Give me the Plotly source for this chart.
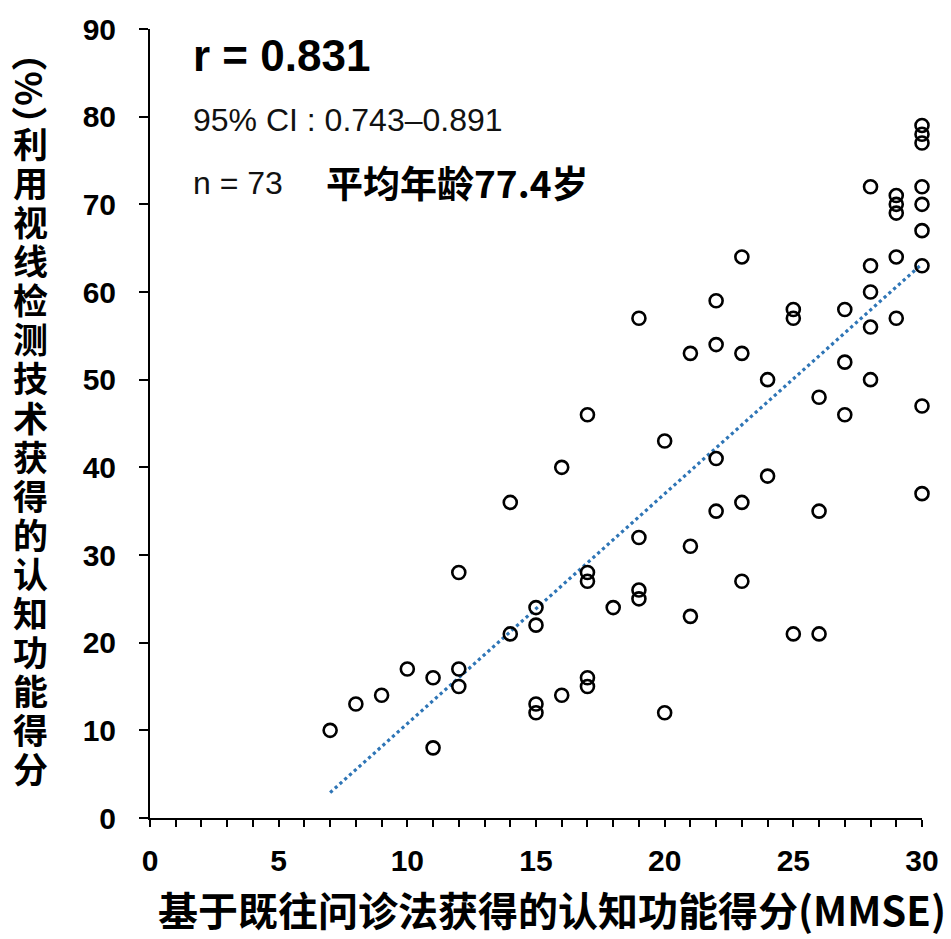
import plotly.graph_objects as go

# ---- data ----
mmse = [7, 8, 9, 10, 11, 11, 12, 12, 12, 14, 14, 15, 15, 15, 15, 16, 16,
        17, 17, 17, 17, 17, 18, 19, 19, 19, 19, 20, 20, 21, 21, 21,
        22, 22, 22, 22, 23, 23, 23, 23, 24, 24, 25, 25, 25, 26, 26, 26,
        27, 27, 27, 28, 28, 28, 28, 28, 29, 29, 29, 29, 29,
        30, 30, 30, 30, 30, 30, 30, 30, 30]
gaze = [10, 13, 14, 17, 16, 8, 28, 17, 15, 36, 21, 24, 22, 13, 12, 40, 14,
        46, 28, 27, 16, 15, 24, 57, 32, 26, 25, 43, 12, 53, 31, 23,
        59, 54, 41, 35, 64, 53, 36, 27, 50, 39, 58, 57, 21, 48, 35, 21,
        58, 52, 46, 72, 63, 60, 56, 50, 71, 70, 69, 64, 57,
        79, 78, 77, 72, 70, 67, 63, 47, 37]
trend_x = [7, 30]
trend_y = [2.9, 63.2]

x_ticks = [0, 5, 10, 15, 20, 25, 30]
y_ticks = [0, 10, 20, 30, 40, 50, 60, 70, 80, 90]

x_title = "基于既往问诊法获得的认知功能得分(MMSE)"
y_title_head = "（%）"
y_title_chars = list("利用视线检测技术获得的认知功能得分")
r_text = "r = 0.831"
ci_text = "95% CI : 0.743–0.891"
n_text = "n = 73"
age_text = "平均年龄77.4岁"

LAT = "Liberation Sans, Arial, Noto Sans CJK SC"
CJK = "Noto Sans CJK SC, Liberation Sans"

W, H = 951, 939
L, R, T, B = 150, 22, 20, 121
PW, PH = W - L - R, H - T - B


def px(x):
    return (x - L) / PW


def py(y):
    return (H - B - y) / PH


fig = go.Figure()
fig.add_trace(go.Scatter(
    x=trend_x, y=trend_y, mode="lines",
    line=dict(color="#2E75B6", width=3.2, dash="dot"),
    hoverinfo="skip", showlegend=False))
fig.add_trace(go.Scatter(
    x=mmse, y=gaze, mode="markers", cliponaxis=False,
    marker=dict(symbol="circle-open", size=13, color="black",
                line=dict(width=2.6, color="black")),
    showlegend=False))

annotations = []
annotations.append(dict(text=r_text, x=px(191), y=py(47), xref="paper", yref="paper",
                        xanchor="left", yanchor="middle", showarrow=False,
                        font=dict(family=LAT, size=44, color="black", weight="bold")))
annotations.append(dict(text=ci_text, x=px(191), y=py(112), xref="paper", yref="paper",
                        xanchor="left", yanchor="middle", showarrow=False,
                        font=dict(family=LAT, size=32, color="#111")))
annotations.append(dict(text=n_text, x=px(191), y=py(176), xref="paper", yref="paper",
                        xanchor="left", yanchor="middle", showarrow=False,
                        font=dict(family=LAT, size=32, color="#111")))
annotations.append(dict(text=age_text, x=px(326), y=py(175), xref="paper", yref="paper",
                        xanchor="left", yanchor="middle", showarrow=False,
                        font=dict(family=CJK, size=37, color="black", weight="bold")))
# vertical y-axis title: rotated "(%)" head, then upright stacked characters
annotations.append(dict(text=y_title_head, x=px(30), y=py(80), xref="paper", yref="paper",
                        xanchor="center", yanchor="middle", showarrow=False, textangle=90,
                        font=dict(family=CJK, size=36, color="black", weight="bold")))
for i, ch in enumerate(y_title_chars):
    annotations.append(dict(text=ch, x=px(29), y=py(138 + 39.5 * i), xref="paper", yref="paper",
                            xanchor="center", yanchor="middle", showarrow=False,
                            font=dict(family=LAT, size=35, color="black", weight="bold")))
# x-axis title
annotations.append(dict(text=x_title, x=px(556), y=py(910), xref="paper", yref="paper",
                        xanchor="center", yanchor="middle", showarrow=False,
                        font=dict(family=CJK, size=40, color="black", weight="bold")))

fig.update_layout(
    width=W, height=H,
    margin=dict(l=L, r=R, t=T, b=B),
    paper_bgcolor="white", plot_bgcolor="white",
    annotations=annotations,
    xaxis=dict(range=[0, 30], tickvals=x_ticks, ticktext=[str(v) for v in x_ticks],
               showgrid=False, zeroline=False, showline=True, linecolor="black", linewidth=2,
               ticks="outside", ticklen=7, tickwidth=2, tickcolor="black",
               minor=dict(dtick=1, ticks="outside", ticklen=7, tickwidth=2, tickcolor="black",
                          showgrid=False),
               tickfont=dict(family=LAT, size=30, color="black", weight="bold"),
               ticklabelstandoff=8),
    yaxis=dict(range=[0, 90], tickvals=y_ticks, ticktext=[str(v) for v in y_ticks],
               showgrid=False, zeroline=False, showline=True, linecolor="black", linewidth=2,
               ticks="outside", ticklen=9, tickwidth=2, tickcolor="black",
               tickfont=dict(family=LAT, size=30, color="black", weight="bold"),
               ticklabelstandoff=17),
)

fig.write_html("out.html")
